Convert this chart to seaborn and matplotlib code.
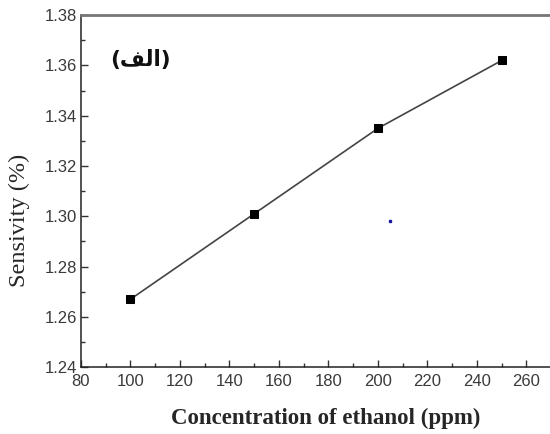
import numpy as np
import pandas as pd
import matplotlib
matplotlib.use("Agg")
import matplotlib.pyplot as plt
from matplotlib.ticker import MultipleLocator
import seaborn as sns

# Sensor response vs. ethanol concentration
concentration_ppm = [100, 150, 200, 250]
sensitivity = [1.267, 1.301, 1.335, 1.362]

x_ticks = [80, 100, 120, 140, 160, 180, 200, 220, 240, 260]
y_ticks = [1.24, 1.26, 1.28, 1.30, 1.32, 1.34, 1.36, 1.38]

panel_label = "(\uFED2\uFEDF\uFE8D)"  # "(الف)" in shaped presentation forms

df = pd.DataFrame({"Concentration": concentration_ppm, "Sensitivity": sensitivity})

sns.set_style("white")
fig = plt.figure(figsize=(5.5, 4.34), dpi=100)
ax = fig.add_axes([0.147, 0.154, 0.853, 0.811])

sns.lineplot(data=df, x="Concentration", y="Sensitivity", ax=ax,
             color="#444444", linewidth=1.2, marker="s", markersize=6,
             markerfacecolor="black", markeredgecolor="black")

# stray blue speck
ax.plot([205], [1.298], marker="s", markersize=2, color="#1a1aa0", linestyle="none")

ax.set_xlim(80, 269.5)
ax.set_ylim(1.24, 1.38)
ax.set_xticks(x_ticks)
ax.set_yticks(y_ticks)
ax.set_xticklabels([str(v) for v in x_ticks])
ax.set_yticklabels([f"{v:.2f}" for v in y_ticks])
ax.xaxis.set_minor_locator(MultipleLocator(10))
ax.yaxis.set_minor_locator(MultipleLocator(0.01))

ax.tick_params(which="both", direction="in", color="#333333",
               bottom=True, left=True, top=False, right=False)
ax.tick_params(which="major", length=5, width=1)
ax.tick_params(which="minor", length=3, width=1)
ax.tick_params(axis="both", labelsize=12, labelcolor="#3a3a3a")
ax.tick_params(axis="x", pad=5)
ax.tick_params(axis="y", pad=3)
for lab in ax.get_xticklabels() + ax.get_yticklabels():
    lab.set_family("Liberation Sans")

for side in ("left", "bottom"):
    ax.spines[side].set_color("#222222")
    ax.spines[side].set_linewidth(1.1)
ax.spines["top"].set_color("#777777")
ax.spines["top"].set_linewidth(2)
ax.spines["right"].set_visible(False)

ax.set_xlabel("Concentration of ethanol (ppm)", family="Liberation Serif",
              fontsize=16.5, fontweight="bold", va="center")
ax.xaxis.set_label_coords(0.522, -0.145)
ax.set_ylabel("Sensivity (%)", family="Liberation Serif", fontsize=17.5, va="center")
ax.yaxis.set_label_coords(-0.132, 0.418)

ax.text(0.062, 0.872, panel_label, transform=ax.transAxes, family="DejaVu Sans",
        fontsize=15.5, fontweight="bold", color="#111111", va="center", ha="left")

fig.savefig("out.png", dpi=100, facecolor="white")
